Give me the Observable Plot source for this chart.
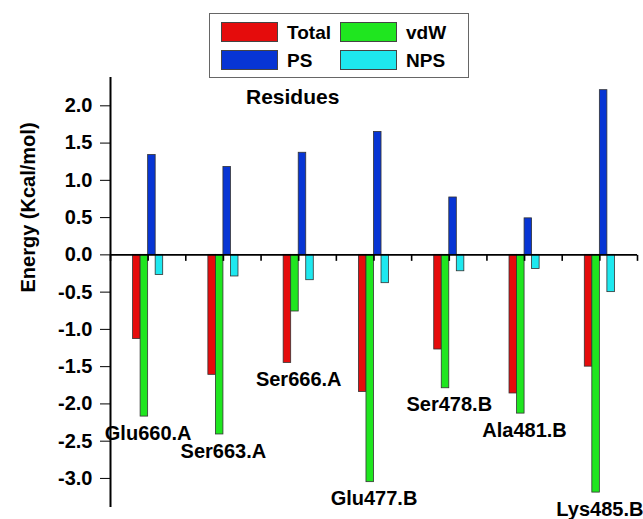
<!DOCTYPE html>
<html>
<head>
<meta charset="utf-8">
<script src="https://cdn.jsdelivr.net/npm/d3@7"></script>
<script src="https://cdn.jsdelivr.net/npm/@observablehq/plot@0.6"></script>
<style>
  body { margin: 0; background: #fff; }
  #wrap { position: relative; width: 643px; height: 519px; font-family: "Liberation Sans", Arial, sans-serif; font-weight: bold; color: #000; }
  #chart { position: absolute; left: 0; top: 0; }
  .legend { position: absolute; left: 209px; top: 13px; width: 258px; height: 63px; border: 1.5px solid #666; background: #fff; }
  .sw { position: absolute; width: 55px; height: 18px; border: 1px solid #444; }
  .lt { position: absolute; font-size: 19px; line-height: 19px; white-space: nowrap; }
  .title { position: absolute; left: 246px; top: 86px; font-size: 21px; line-height: 21px; }
</style>
</head>
<body>
<div id="wrap">
  <div id="chart"></div>
  <div class="legend" id="legend"></div>
  <div class="title">Residues</div>
</div>
<script>
// ---- data ----
const residues = ["Glu660.A", "Ser663.A", "Ser666.A", "Glu477.B", "Ser478.B", "Ala481.B", "Lys485.B"];
const seriesNames = ["Total", "vdW", "PS", "NPS"];
const totalValues = [-1.13, -1.61, -1.45, -1.84, -1.27, -1.86, -1.50];
const vdwValues   = [-2.17, -2.41, -0.76, -3.05, -1.79, -2.13, -3.19];
const psValues    = [ 1.34,  1.18,  1.37,  1.65,  0.77,  0.49,  2.21];
const npsValues   = [-0.27, -0.29, -0.34, -0.38, -0.22, -0.19, -0.50];
const yTicks = [-3.0, -2.5, -2.0, -1.5, -1.0, -0.5, 0.0, 0.5, 1.0, 1.5, 2.0];
const yLabel = "Energy (Kcal/mol)";

// ---- styles ----
const colors = ["#e50c0c", "#1fe61f", "#0735d4", "#1ee8ef"];
const barW = 0.1;

const seriesValues = [totalValues, vdwValues, psValues, npsValues];
const rows = [];
residues.forEach((r, i) => {
  seriesNames.forEach((s, j) => {
    rows.push({residue: r, i, series: s, j, value: seriesValues[j][i]});
  });
});
const labelRows = residues.map((r, i) => ({residue: r, i, low: Math.min(...seriesValues.map(v => v[i]))}));
const xDomain = [-0.5, residues.length - 0.5];
const xTicks = d3.range(xDomain[0], xDomain[1] + 0.01, 0.5);
const tickSymbol = {draw(ctx) { ctx.moveTo(0, 0); ctx.lineTo(0, 6); }};

const chart = Plot.plot({
  width: 643,
  height: 519,
  marginLeft: 110,
  marginRight: 6,
  marginTop: 77,
  marginBottom: 12,
  style: {fontFamily: "'Liberation Sans', Arial, sans-serif", fontSize: "20px", fontWeight: "bold", color: "#000", background: "transparent", overflow: "visible"},
  x: {domain: xDomain, axis: null},
  y: {domain: [-3.39, 2.38], ticks: yTicks, tickFormat: d => d.toFixed(1), tickSize: 10, tickPadding: 8, label: null},
  color: {domain: seriesNames, range: colors},
  marks: [
    Plot.rectY(rows, {
      x1: d => d.i + (d.j - 2) * barW,
      x2: d => d.i + (d.j - 1) * barW,
      y1: 0,
      y2: "value",
      fill: "series",
      stroke: "#333",
      strokeWidth: 0.8
    }),
    Plot.ruleY([0], {stroke: "#000", strokeWidth: 1.6}),
    Plot.ruleX([xDomain[0]], {stroke: "#000", strokeWidth: 2}),
    Plot.dot(xTicks, {x: d => d, y: 0, symbol: tickSymbol, stroke: "#000", strokeWidth: 1.6, fill: "none"}),
    Plot.text(labelRows, {x: "i", y: "low", text: "residue", lineAnchor: "top", dy: 9, fontSize: 20, fontWeight: "bold", fill: "#000"}),
    Plot.text([yLabel], {frameAnchor: "left", rotate: -90, dx: -82, fontSize: 20, fontWeight: "bold", fill: "#000"})
  ]
});
document.getElementById("chart").appendChild(chart);

// ---- legend ----
const legend = document.getElementById("legend");
const pos = [[11, 8], [130, 8], [11, 36], [130, 36]];
seriesNames.forEach((s, j) => {
  const sw = document.createElement("div");
  sw.className = "sw";
  sw.style.left = pos[j][0] + "px";
  sw.style.top = pos[j][1] + "px";
  sw.style.background = colors[j];
  legend.appendChild(sw);
  const t = document.createElement("div");
  t.className = "lt";
  t.textContent = s;
  t.style.left = (pos[j][0] + 66) + "px";
  t.style.top = (pos[j][1] + 1) + "px";
  legend.appendChild(t);
});
</script>
</body>
</html>
